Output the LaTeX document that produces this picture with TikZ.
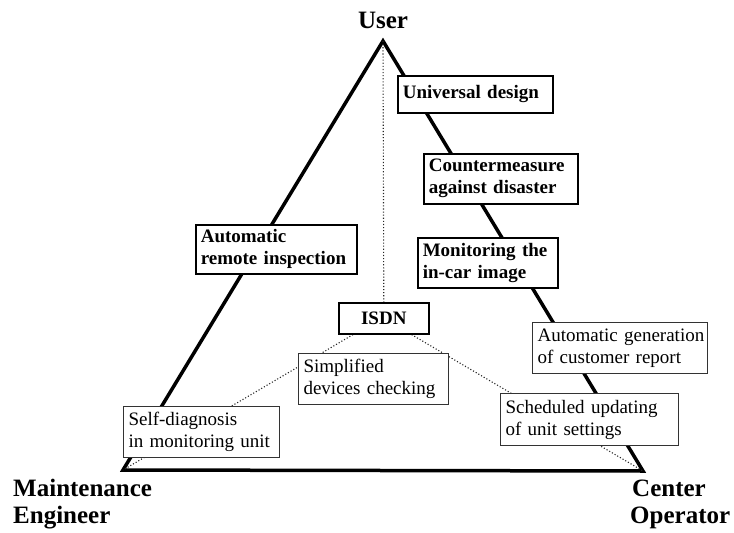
\documentclass[tikz,border=0pt]{standalone}
\usepackage{fontspec}
\setmainfont{Liberation Serif}
\usetikzlibrary{backgrounds}
\begin{document}
\begin{tikzpicture}[x=1pt,y=-1pt,
  boldbox/.style={draw=black,line width=1.6pt,fill=white,font=\fontsize{19}{22}\selectfont\bfseries,align=left,inner xsep=5pt,inner ysep=0pt,anchor=north west},
  plainbox/.style={draw=black!80,line width=1.1pt,fill=white,font=\fontsize{19}{22}\selectfont,align=left,inner xsep=5pt,inner ysep=0pt,anchor=north west},
  role/.style={font=\fontsize{25}{27}\selectfont\bfseries,anchor=base west,inner sep=0pt},
  edge/.style={line width=3.5pt,line join=miter},
  link/.style={line width=1.1pt,black!85,dash pattern=on 1.1pt off 2pt}]
\useasboundingbox (0,0) rectangle (734,533);
\coordinate (A) at (383,41);
\coordinate (B) at (123,470);
\coordinate (C) at (643,471);

\node[boldbox,text width=145pt,minimum height=37pt] (ud) at (397,75) {Universal design};
\node[boldbox,text width=144pt,minimum height=50pt] (cm) at (423,153) {Countermeasure\\against disaster};
\node[boldbox,text width=130pt,minimum height=50pt] (mi) at (417,237) {Monitoring the\\in-car image};
\node[boldbox,text width=151pt,minimum height=49pt] (ar) at (195,224) {Automatic\\remote inspection};
\node[boldbox,align=center,text width=80pt,minimum height=31pt] (isdn) at (338,302) {ISDN};
\node[plainbox,text width=140pt,minimum height=51pt] (sd) at (298,353) {Simplified\\devices checking};
\node[plainbox,text width=146pt,minimum height=51pt] (sm) at (123,406) {Self-diagnosis\\in monitoring unit};
\node[plainbox,text width=165pt,minimum height=51pt] (ag) at (532,322) {\mbox{Automatic generation}\\\mbox{of customer report}};
\node[plainbox,text width=168pt,minimum height=52pt] (su) at (500,393) {Scheduled updating\\of unit settings};

\node[role,anchor=base] (user) at (383,28) {User};
\node[role] (mt1) at (13,496) {Maintenance};
\node[role] (mt2) at (13,523) {Engineer};
\node[role] (co1) at (632,496) {Center};
\node[role] (co2) at (630,523) {Operator};

\begin{scope}[on background layer]
\draw[edge] (A) -- (B) -- (C) -- cycle;
\draw[link] (A) -- (isdn.north);
\draw[link] ([xshift=15pt]isdn.south west) -- (B);
\draw[link] ([xshift=-18pt]isdn.south east) -- (C);
\end{scope}
\end{tikzpicture}
\end{document}
